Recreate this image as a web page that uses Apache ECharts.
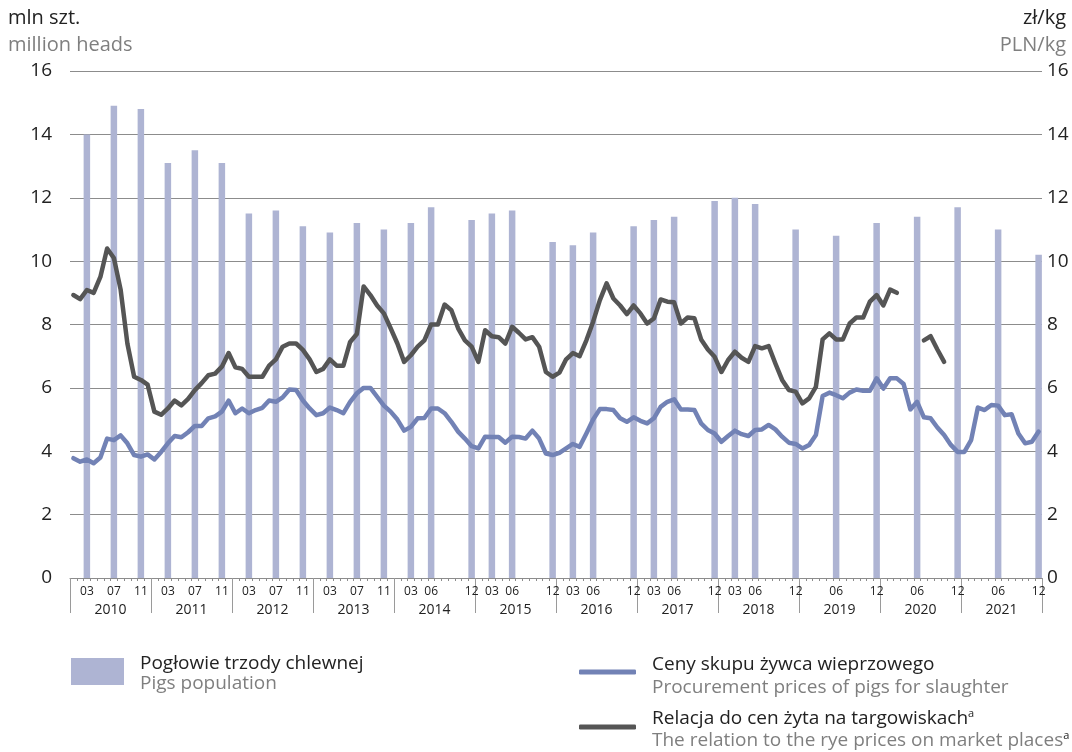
<!DOCTYPE html>
<html>
<head>
<meta charset="utf-8">
<script src="https://cdn.jsdelivr.net/npm/echarts@6/dist/echarts.min.js"></script>
<style>
  html, body { margin: 0; padding: 0; background: #fff; }
  #chart { width: 1072px; height: 752px; }
</style>
</head>
<body>
<div id="chart"></div>
<script>
// lata i miesiace
var years = ['2010', '2011', '2012', '2013', '2014', '2015', '2016', '2017', '2018', '2019', '2020', '2021'];
var monthNames = ['01', '02', '03', '04', '05', '06', '07', '08', '09', '10', '11', '12'];

// poglowie (mln szt.) - tylko miesiace badan
var popDates = ['2010-03', '2010-07', '2010-11', '2011-03', '2011-07', '2011-11',
    '2012-03', '2012-07', '2012-11', '2013-03', '2013-07', '2013-11',
    '2014-03', '2014-06', '2014-12', '2015-03', '2015-06', '2015-12',
    '2016-03', '2016-06', '2016-12', '2017-03', '2017-06', '2017-12',
    '2018-03', '2018-06', '2018-12', '2019-06', '2019-12',
    '2020-06', '2020-12', '2021-06', '2021-12'];
var popValues = [14.0, 14.9, 14.8, 13.1, 13.5, 13.1,
    11.5, 11.6, 11.1, 10.9, 11.2, 11.0,
    11.2, 11.7, 11.3, 11.5, 11.6, 10.6,
    10.5, 10.9, 11.1, 11.3, 11.4, 11.9,
    12.0, 11.8, 11.0, 10.8, 11.2,
    11.4, 11.7, 11.0, 10.2];

// ceny skupu zywca wieprzowego (zl/kg), miesiecznie 2010-2021
var prices = [
    3.78, 3.67, 3.74, 3.62, 3.80, 4.40, 4.35, 4.50, 4.25, 3.88, 3.83, 3.90,
    3.74, 3.98, 4.25, 4.48, 4.44, 4.60, 4.80, 4.80, 5.04, 5.10, 5.25, 5.60,
    5.20, 5.35, 5.20, 5.30, 5.37, 5.60, 5.56, 5.70, 5.95, 5.93, 5.60, 5.35,
    5.14, 5.20, 5.38, 5.30, 5.20, 5.56, 5.83, 6.00, 6.00, 5.72, 5.44, 5.25,
    5.00, 4.65, 4.77, 5.04, 5.05, 5.35, 5.35, 5.20, 4.93, 4.62, 4.40, 4.16,
    4.09, 4.46, 4.45, 4.45, 4.27, 4.46, 4.45, 4.40, 4.65, 4.40, 3.93, 3.88,
    3.95, 4.09, 4.23, 4.14, 4.56, 5.00, 5.33, 5.33, 5.30, 5.04, 4.93, 5.07,
    4.96, 4.88, 5.04, 5.40, 5.56, 5.64, 5.32, 5.32, 5.30, 4.88, 4.67, 4.56,
    4.30, 4.48, 4.65, 4.54, 4.48, 4.67, 4.69, 4.83, 4.69, 4.46, 4.27, 4.23,
    4.09, 4.20, 4.51, 5.74, 5.85, 5.77, 5.67, 5.85, 5.95, 5.91, 5.91, 6.30,
    5.98, 6.30, 6.30, 6.12, 5.32, 5.56, 5.07, 5.04, 4.75, 4.51, 4.20, 3.98,
    3.98, 4.35, 5.38, 5.30, 5.46, 5.44, 5.14, 5.17, 4.56, 4.25, 4.30, 4.62
];

// relacja do cen zyta na targowiskach
var relation = [
    8.93, 8.80, 9.09, 9.00, 9.50, 10.4, 10.1, 9.10, 7.40, 6.35, 6.25, 6.10,
    5.25, 5.15, 5.35, 5.60, 5.45, 5.65, 5.93, 6.15, 6.40, 6.45, 6.67, 7.10,
    6.65, 6.60, 6.35, 6.35, 6.35, 6.70, 6.90, 7.30, 7.40, 7.40, 7.20, 6.90,
    6.50, 6.60, 6.90, 6.70, 6.70, 7.45, 7.70, 9.20, 8.93, 8.60, 8.35, 7.88,
    7.40, 6.82, 7.03, 7.30, 7.50, 8.00, 8.00, 8.63, 8.45, 7.88, 7.50, 7.30,
    6.82, 7.82, 7.63, 7.60, 7.40, 7.93, 7.74, 7.53, 7.60, 7.30, 6.50, 6.35,
    6.48, 6.90, 7.10, 7.00, 7.50, 8.09, 8.77, 9.30, 8.82, 8.60, 8.33, 8.60,
    8.35, 8.03, 8.19, 8.79, 8.72, 8.70, 8.03, 8.22, 8.20, 7.53, 7.21, 6.98,
    6.50, 6.88, 7.14, 6.95, 6.82, 7.32, 7.25, 7.32, 6.77, 6.25, 5.93, 5.88,
    5.51, 5.67, 6.03, 7.53, 7.72, 7.53, 7.53, 8.03, 8.22, 8.22, 8.72, 8.93,
    8.60, 9.10, 9.00, null, null, null, 7.50, 7.63, 7.21, 6.82, null, null,
    null, null, null, null, null, null, null, null, null, null, null, null
];

var FONT = '"Open Sans", "Noto Sans", sans-serif';
var TXT = 19;

// kategorie miesieczne + slupki tylko w miesiacach badan
var months = [];
var monthKeys = [];
years.forEach(function (y) {
    monthNames.forEach(function (m) {
        months.push(m);
        monthKeys.push(y + '-' + m);
    });
});
var popSeries = monthKeys.map(function (k) {
    var i = popDates.indexOf(k);
    return i >= 0 ? popValues[i] : null;
});

var myChart = echarts.init(document.getElementById('chart'));
var option = {
    animation: false,
    textStyle: { fontFamily: FONT },
    grid: { left: 70, right: 30, top: 71, bottom: 174 },
    graphic: [
        { type: 'text', left: 8, top: 8, style: { text: 'mln szt.', fontSize: 20, fontFamily: FONT, fill: '#222' } },
        { type: 'text', left: 8, top: 35, style: { text: 'million heads', fontSize: 20, fontFamily: FONT, fill: '#7f7f7f' } },
        { type: 'text', right: 6, top: 8, style: { text: 'zł/kg', fontSize: 20, fontFamily: FONT, fill: '#222' } },
        { type: 'text', right: 6, top: 35, style: { text: 'PLN/kg', fontSize: 20, fontFamily: FONT, fill: '#7f7f7f' } }
    ],
    legend: [
        {
            data: ['Pogłowie trzody chlewnej'],
            left: 71, top: 654, padding: 0,
            icon: 'rect', itemWidth: 53, itemHeight: 27,
            selectedMode: false,
            formatter: function () {
                return '{pl|Pogłowie trzody chlewnej}\n{en|Pigs population}';
            },
            textStyle: {
                padding: [4, 0, 0, 11],
                rich: {
                    pl: { fontSize: TXT, fontFamily: FONT, color: '#222', lineHeight: 20 },
                    en: { fontSize: TXT, fontFamily: FONT, color: '#7f7f7f', lineHeight: 20 }
                }
            }
        },
        {
            data: ['Ceny skupu żywca wieprzowego'],
            left: 579, top: 655, padding: 0,
            icon: 'roundRect', itemWidth: 57, itemHeight: 5,
            selectedMode: false,
            formatter: function () {
                return '{pl|Ceny skupu żywca wieprzowego}\n{en|Procurement prices of pigs for slaughter}';
            },
            textStyle: {
                padding: [8, 0, 0, 11],
                rich: {
                    pl: { fontSize: TXT, fontFamily: FONT, color: '#222', lineHeight: 23 },
                    en: { fontSize: TXT, fontFamily: FONT, color: '#7f7f7f', lineHeight: 23 }
                }
            }
        },
        {
            data: ['Relacja do cen żyta na targowiskach'],
            left: 579, top: 708, padding: 0,
            icon: 'roundRect', itemWidth: 57, itemHeight: 5,
            selectedMode: false,
            formatter: function () {
                return '{pl|Relacja do cen żyta na targowiskach}{sup|a}\n{en|The relation to the rye prices on market places}{sup|a}';
            },
            textStyle: {
                padding: [6, 0, 0, 11],
                rich: {
                    pl: { fontSize: TXT, fontFamily: FONT, color: '#222', lineHeight: 22 },
                    en: { fontSize: TXT, fontFamily: FONT, color: '#7f7f7f', lineHeight: 22 },
                    sup: { fontSize: 11, fontFamily: FONT, color: '#222', verticalAlign: 'top', lineHeight: 22 }
                }
            }
        }
    ],
    xAxis: [
        {
            type: 'category',
            data: months,
            boundaryGap: true,
            axisLine: { show: true, lineStyle: { color: '#8c8c8c', width: 1 } },
            axisTick: { show: true, interval: 0, length: 3, lineStyle: { color: '#8c8c8c' } },
            axisLabel: {
                interval: function (idx) { return popSeries[idx] != null; },
                fontSize: 12, color: '#222', margin: 8
            },
            splitLine: { show: false }
        },
        {
            type: 'category',
            data: years,
            position: 'bottom',
            boundaryGap: true,
            axisLine: { show: false },
            axisTick: { show: true, interval: 0, length: 35, lineStyle: { color: '#9a9a9a' } },
            axisLabel: { interval: 0, fontSize: 14, color: '#222', margin: 25 },
            splitLine: { show: false }
        }
    ],
    yAxis: [
        {
            type: 'value', min: 0, max: 16, interval: 2,
            axisLine: { show: false }, axisTick: { show: false },
            axisLabel: { fontSize: 19, color: '#222', margin: 18 },
            splitLine: { show: true, lineStyle: { color: '#8c8c8c', width: 1 } }
        },
        {
            type: 'value', min: 0, max: 16, interval: 2,
            axisLine: { show: false }, axisTick: { show: false },
            axisLabel: { fontSize: 19, color: '#222', margin: 5 },
            splitLine: { show: false }
        }
    ],
    series: [
        {
            name: 'Pogłowie trzody chlewnej',
            type: 'bar',
            xAxisIndex: 0, yAxisIndex: 0,
            data: popSeries,
            barWidth: 6.5,
            itemStyle: { color: '#aeb4d3' },
            z: 1
        },
        {
            name: 'Ceny skupu żywca wieprzowego',
            type: 'line',
            xAxisIndex: 0, yAxisIndex: 1,
            data: prices,
            symbol: 'none',
            connectNulls: false,
            lineStyle: { color: '#7282b5', width: 4.5, join: 'round', cap: 'round' },
            itemStyle: { color: '#7282b5' },
            z: 3
        },
        {
            name: 'Relacja do cen żyta na targowiskach',
            type: 'line',
            xAxisIndex: 0, yAxisIndex: 1,
            data: relation,
            symbol: 'none',
            connectNulls: false,
            lineStyle: { color: '#555555', width: 4.5, join: 'round', cap: 'round' },
            itemStyle: { color: '#555555' },
            z: 4
        }
    ]
};
myChart.setOption(option);
</script>
</body>
</html>
